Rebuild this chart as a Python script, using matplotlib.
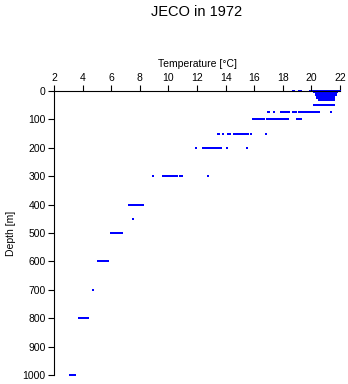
import matplotlib
matplotlib.use("Agg")
import matplotlib.pyplot as plt
import numpy as np

plt.rcParams['font.family'] = ['Liberation Sans', 'DejaVu Sans']

# Temperature observations [°C] grouped by sampling depth [m]
depth_levels = [0, 5, 10, 15, 20, 25, 30, 50, 75, 100, 150, 200, 300, 400, 450, 500, 600, 700, 800, 1000]
temps_by_depth = [
    [18.7, 18.8, 19.1, 19.2, 19.25, 19.3, 19.9, 20.1, 20.2, 20.3, 20.4, 20.5, 20.6, 20.7, 20.8, 20.9,
     21.0, 21.1, 21.2, 21.3, 21.4, 21.5, 21.6, 21.7, 21.8, 21.9, 22.0],
    [20.2, 20.3, 20.4, 20.5, 20.6, 20.7, 20.8, 20.9, 21.0, 21.1, 21.2, 21.3, 21.4, 21.5, 21.6, 21.7, 21.8],
    [20.3, 20.4, 20.5, 20.6, 20.7, 20.8, 20.9, 21.0, 21.1, 21.2, 21.3, 21.4, 21.5, 21.6, 21.7],
    [20.3, 20.4, 20.5, 20.6, 20.7, 20.8, 20.9, 21.0, 21.1, 21.2, 21.3, 21.4, 21.5, 21.6, 21.7],
    [20.4, 20.5, 20.6, 20.7, 20.8, 20.9, 21.0, 21.1, 21.2, 21.3, 21.4, 21.5, 21.6],
    [20.4, 20.5, 20.6, 20.7, 20.8, 20.9, 21.0, 21.1, 21.2, 21.3, 21.4, 21.5, 21.6],
    [20.5, 20.6, 20.7, 20.8, 20.9, 21.0, 21.1, 21.2, 21.3, 21.4, 21.5, 21.6],
    [20.2, 20.3, 20.4, 20.5, 20.6, 20.7, 20.8, 20.9, 21.0, 21.1, 21.2, 21.3, 21.4, 21.5, 21.6],
    [16.95, 17.05, 17.35, 17.9, 18.0, 18.1, 18.2, 18.3, 18.45, 18.7, 18.8, 18.9, 19.1, 19.2,
     19.35, 19.45, 19.55, 19.65, 19.75, 19.85, 19.95, 20.05, 20.2, 20.3, 20.4, 20.55, 21.35],
    [15.9, 16.0, 16.1, 16.2, 16.3, 16.4, 16.5, 16.6, 16.7, 16.9, 17.0, 17.1, 17.2, 17.3, 17.4,
     17.5, 17.6, 17.7, 17.8, 17.9, 18.0, 18.1, 18.2, 18.35, 19.0, 19.1, 19.3],
    [13.45, 13.55, 13.8, 14.2, 14.3, 14.6, 14.7, 14.8, 14.9, 15.0, 15.1, 15.2, 15.3, 15.4, 15.5,
     15.6, 15.75, 16.8],
    [11.9, 12.45, 12.55, 12.65, 12.75, 12.85, 12.95, 13.05, 13.15, 13.25, 13.35, 13.45, 13.6,
     13.7, 14.1, 15.5],
    [8.9, 9.6, 9.7, 9.8, 9.9, 10.0, 10.1, 10.2, 10.3, 10.4, 10.5, 10.6, 10.8, 10.95, 12.8],
    [7.25, 7.4, 7.5, 7.6, 7.7, 7.8, 7.9, 8.0, 8.1, 8.2],
    [7.5],
    [6.0, 6.1, 6.2, 6.3, 6.4, 6.5, 6.6, 6.75],
    [5.1, 5.2, 5.3, 5.4, 5.5, 5.6, 5.7, 5.8],
    [4.7],
    [3.75, 3.85, 3.95, 4.1, 4.2, 4.3, 4.4],
    [3.1, 3.2, 3.3, 3.45],
]

temperature = np.concatenate([np.asarray(t, dtype=float) for t in temps_by_depth])
depth = np.concatenate([np.full(len(t), d, dtype=float) for d, t in zip(depth_levels, temps_by_depth)])

x_ticks = [2, 4, 6, 8, 10, 12, 14, 16, 18, 20, 22]
y_ticks = [0, 100, 200, 300, 400, 500, 600, 700, 800, 900, 1000]

fig = plt.figure(figsize=(3.48, 3.84), dpi=100)
ax = fig.add_axes([54 / 348, 1 - 375 / 384, (340 - 54) / 348, (375 - 91) / 384])

ax.plot(temperature, depth, linestyle='none', marker='s', markersize=2.0,
        markeredgewidth=0, color='#0000ff', clip_on=False)

ax.set_xlim(2, 22)
ax.set_ylim(1000, 0)
ax.xaxis.set_ticks_position('top')
ax.xaxis.set_label_position('top')
ax.set_xticks(x_ticks)
ax.set_yticks(y_ticks)
ax.tick_params(axis='both', labelsize=7.5, length=4, width=0.8, pad=2, colors='black')
for side in ('right', 'bottom'):
    ax.spines[side].set_visible(False)
for side in ('left', 'top'):
    ax.spines[side].set_linewidth(0.8)

ax.set_xlabel('Temperature [°C]', fontsize=7.5, labelpad=4)
ax.set_ylabel('Depth [m]', fontsize=7.5, labelpad=5)

fig.text(197 / 348, 1 - 12 / 384, 'JECO in 1972', ha='center', va='center', fontsize=10.5)

fig.savefig('out.png', dpi=100)
